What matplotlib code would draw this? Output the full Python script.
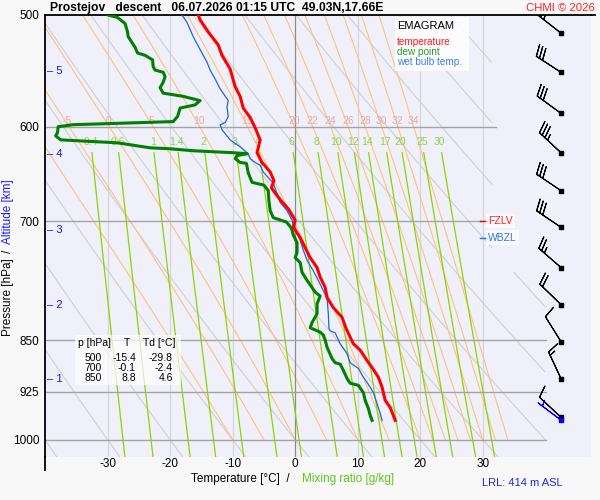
import numpy as np
import matplotlib.pyplot as plt
from matplotlib.lines import Line2D
from matplotlib.ticker import NullLocator

plt.rcParams['font.family'] = ['Liberation Sans', 'DejaVu Sans']

# ---- sounding (pressure hPa, temperature C) ----
temp_p = [500, 504, 514, 525, 534, 546, 562, 571, 582, 591, 601, 613, 626, 636,
          646, 655, 663, 676, 686, 699, 707, 719, 731, 743, 755, 767, 780, 793,
          806, 819, 833, 846, 855, 864, 879, 889, 903, 918, 938, 949, 969]
temp_c = [-15.5, -15.2, -13.9, -12.3, -11.7, -10.4, -9.6, -8.8, -8.3, -7.2, -6.4,
          -5.6, -6.1, -5.3, -4.0, -3.4, -3.8, -2.4, -1.1, 0.0, -0.3, 0.8, 1.6, 2.4,
          3.5, 4.0, 4.8, 5.1, 6.1, 7.5, 8.1, 8.8, 9.3, 10.4, 11.5, 12.3, 13.3, 13.9,
          14.4, 15.2, 16.0]

dew_p = [500, 502, 507, 514, 518, 527, 532, 534, 538, 544, 547, 549, 553, 558,
         563, 568, 571, 575, 579, 582, 590, 595, 596, 597, 598, 600, 606, 609,
         613, 616, 621, 622, 624, 626, 627, 629, 632, 636, 637, 647, 657, 660,
         666, 677, 688, 696, 701, 708, 716, 725, 737, 743, 749, 761, 771, 780,
         786, 791, 801, 814, 826, 833, 839, 843, 850, 860, 876, 882, 884, 893,
         905, 912, 915, 926, 938, 950, 961, 969]
dew_c = [-29.9, -28.4, -27.2, -26.8, -26.7, -25.6, -25.2, -24.0, -22.8, -22.7,
         -22.4, -21.1, -20.8, -21.1, -21.6, -21.1, -17.9, -15.2, -16.0, -18.4,
         -18.8, -19.5, -24.8, -30.0, -35.5, -37.9, -38.0, -38.3, -37.5, -28.4,
         -23.2, -20.0, -16.3, -9.9, -7.7, -9.3, -9.6, -8.8, -7.8, -7.5, -6.9,
         -5.0, -4.3, -4.2, -4.0, -3.5, -1.4, -0.6, -0.3, 0.3, 0.3, 0.0, 0.8, 1.1,
         1.9, 2.7, 3.2, 4.0, 3.5, 3.5, 2.7, 2.4, 4.0, 4.5, 4.8, 5.1, 5.9, 6.4, 7.2,
         7.7, 8.3, 8.8, 10.1, 10.9, 11.2, 11.7, 12.0, 12.3]

wet_p = [500, 506, 518, 529, 540, 547, 555, 564, 575, 581, 590, 596, 598, 603,
         613, 620, 627, 632, 636, 639, 646, 652, 658, 669, 679, 688, 699, 705,
         713, 722, 734, 746, 759, 771, 784, 794, 814, 834, 837, 840, 855, 869,
         882, 890, 900, 911, 918, 926, 943, 958, 969]
wet_c = [-18.1, -17.3, -16.3, -15.2, -14.1, -13.6, -12.8, -12.0, -10.7, -10.9,
         -10.7, -11.2, -12.0, -11.7, -10.4, -8.8, -7.5, -7.2, -6.4, -5.6, -5.1,
         -4.3, -3.5, -2.9, -2.4, -1.3, -0.5, -0.3, 0.3, 0.8, 1.3, 1.9, 2.9, 3.7,
         4.5, 5.1, 5.3, 5.4, 5.6, 6.4, 7.2, 8.3, 8.8, 10.1, 10.7, 11.5, 12.0, 12.5,
         13.1, 13.6, 13.9]

table_p = [500, 700, 850]
table_t = [-15.4, -0.1, 8.8]
table_td = [-29.8, -2.4, 4.6]

# winds (direction deg, speed kt)
wind_p = [515, 549, 587, 626, 666, 707, 755, 802, 852, 905, 964]
wind_dir = [308, 303, 306, 313, 304, 304, 311, 314, 328, 335, 313]
wind_kt = [30, 30, 30, 35, 30, 30, 25, 20, 10, 15, 10]
sfc_p = [969]
sfc_dir = [307]
sfc_kt = [5]

alt_km = [1, 2, 3, 4, 5]
alt_p = [906, 802, 710, 627, 548]

fzlv_p = 700
wbzl_p = 719

# ---- diagram background ----
p_levels = [600, 700, 850, 925, 1000]
p_line_end = {600: 32.1, 700: 30.0, 850: 40.1, 925: 40.1, 1000: 40.1}
isotherms = [-30, -20, -10, 10, 20, 30]
theta_c = np.arange(-40, 100, 10)
thetaw_c = [-10, -5, 0, 5, 10, 15, 20, 22, 24, 26, 28, 30, 32, 34]
mix_ratio = [0.4, 0.6, 1, 1.4, 2, 3, 4, 6, 8, 10, 12, 14, 17, 20, 25, 30]

P_TOP, P_BOT = 500, 1028.6
T_LEFT, T_RIGHT = -40, 47.3


def sat_vp(tc):
    return 6.112 * np.exp(17.67 * tc / (tc + 243.5))


def moist_adiabat(tw, p):
    # pseudo-adiabat integrated from 1000 hPa upwards
    Rd, cp, Lv, eps = 287.04, 1005.7, 2.501e6, 0.622

    def dtdp(T, pp):
        es = sat_vp(T - 273.15)
        rs = eps * es / (pp - es)
        return (Rd * T + Lv * rs) / pp / (cp + Lv * Lv * rs * eps / (Rd * T * T))

    T = tw + 273.15
    out = [T]
    for i in range(1, len(p)):
        dp = p[i] - p[i - 1]
        k1 = dtdp(T, p[i - 1])
        k2 = dtdp(T + k1 * dp, p[i])
        T = T + 0.5 * (k1 + k2) * dp
        out.append(T)
    return np.array(out) - 273.15


def mix_line(w, p):
    e = w * p / (622.0 + w)
    ln = np.log(e / 6.112)
    return 243.5 * ln / (17.67 - ln)


fig = plt.figure(figsize=(6, 5), dpi=100, facecolor='#f8f8f8')
ax = fig.add_axes([45 / 600, 1 - 457 / 500, 546 / 600, 442 / 500])
ax.set_facecolor('#f0f0fb')
ax.set_yscale('log')
ax.set_ylim(P_BOT, P_TOP)
ax.set_xlim(T_LEFT, T_RIGHT)

# isotherms
for t in isotherms:
    ax.axvline(t, color='#d6d6d6', lw=0.9, zorder=1)
ax.axvline(0, color='#8c8c8c', lw=0.9, zorder=1.2)

# dry adiabats
pp = np.linspace(P_TOP, P_BOT, 400)
for th in theta_c:
    t = (th + 273.15) * (pp / 1000.0) ** 0.2857 - 273.15
    t = np.where((pp < 760) & (t > 31.5), np.nan, t)
    t = np.where(t > 40, np.nan, t)
    ax.plot(t, pp, color='#cfcfcf', lw=0.8, zorder=1)

# moist adiabats
pm = np.linspace(1000, 500, 501)
for tw in thetaw_c:
    t = moist_adiabat(tw, pm)
    ax.plot(t, pm, color='#ffc27a', lw=0.8, zorder=1.1)
    if tw > -10:
        tl = np.interp(596, pm[::-1], t[::-1])
        ax.text(tl + 0.2, 594, str(tw), color='#f5a79c', fontsize=7.5,
                ha='center', va='center', zorder=2)

# mixing ratio lines
pw = np.linspace(626, P_BOT, 200)
for w in mix_ratio:
    ax.plot(mix_line(w, pw), pw, color='#8cd400', lw=0.9, zorder=1.3)
    ax.text(mix_line(w, 615.0), 615, '%g' % w, color='#8fd34a', fontsize=7.5,
            ha='center', va='center', zorder=2)

# pressure levels
for p in p_levels:
    ax.plot([T_LEFT, p_line_end[p]], [p, p], color='#a4a4a4', lw=1.0, zorder=1.5)

# profiles
ax.plot(wet_c, wet_p, color='#1a66e6', lw=0.9, zorder=4)
ax.plot(dew_c, dew_p, color='#008000', lw=2.2, zorder=4.5)
ax.plot(temp_c, temp_p, color='#ff0000', lw=2.2, zorder=5)

# winds
rad = np.deg2rad(wind_dir)
u = -np.array(wind_kt) * np.sin(rad)
v = -np.array(wind_kt) * np.cos(rad)
bx = 42.5
ax.barbs([bx] * len(wind_p), wind_p, u, v, length=6.5, linewidth=0.8,
         color='black', zorder=6)
ax.scatter([bx] * len(wind_p), wind_p, marker='s', s=8, color='black', zorder=6)
rs = np.deg2rad(sfc_dir)
ax.barbs([bx], sfc_p, -np.array(sfc_kt) * np.sin(rs), -np.array(sfc_kt) * np.cos(rs),
         length=6.5, linewidth=0.8, color='#0000ff', zorder=6)
ax.scatter([bx], sfc_p, marker='s', s=8, color='#0000ff', zorder=6)

# freezing / wet bulb zero level
ax.plot([29.6, 30.6], [fzlv_p, fzlv_p], color='#ff0000', lw=1, zorder=6)
ax.text(30.8, fzlv_p, 'FZLV', color='#ff2020', fontsize=7.5, va='center', ha='left',
        bbox=dict(facecolor='white', edgecolor='none', alpha=0.7, pad=1.5), zorder=6)
ax.plot([29.6, 30.6], [wbzl_p, wbzl_p], color='#2070e0', lw=1, zorder=6)
ax.text(30.8, wbzl_p, 'WBZL', color='#3078e8', fontsize=7.5, va='center', ha='left',
        bbox=dict(facecolor='white', edgecolor='none', alpha=0.7, pad=1.5), zorder=6)

# altitude marks
for km, p in zip(alt_km, alt_p):
    ax.text(0.004, p, '\u2013 %d' % km, color='#1414e0', fontsize=8, va='center',
            ha='left', transform=ax.get_yaxis_transform(), zorder=6)

# axes, ticks
ax.set_yticks([500] + p_levels)
ax.set_yticklabels(['500', '600', '700', '850', '925', '1000'])
ax.yaxis.set_minor_locator(NullLocator())
ax.set_xticks([-30, -20, -10, 0, 10, 20, 30])
ax.set_xticklabels(['-30', '-20', '-10', '0', '10', '20', '30'])
ax.tick_params(length=0, labelsize=8.5)
ax.tick_params(axis='x', pad=1)
ax.tick_params(axis='y', pad=4)
for s in ['right', 'bottom']:
    ax.spines[s].set_visible(False)
ax.spines['left'].set_linewidth(1.3)
ax.spines['top'].set_linewidth(1.3)
fig.add_artist(Line2D([45 / 600, 45 / 600], [1 - 457 / 500, 1 - 470 / 500],
                      color='black', lw=1.3))
fig.add_artist(Line2D([591 / 600, 595 / 600], [1 - 15 / 500, 1 - 15 / 500],
                      color='black', lw=1.3))

# legend box
ax.add_patch(plt.Rectangle(((395 - 45) / 546, (457 - 71) / 442), 74 / 546, 54 / 442,
                           transform=ax.transAxes, facecolor='white', alpha=0.85,
                           edgecolor='none', zorder=7))
fig.text(397 / 600, 1 - 26 / 500, 'EMAGRAM', fontsize=8, va='center', color='black')
for txt, col, yy in [('temperature', '#ff1a1a', 42), ('dew point', '#2c9e2c', 52),
                     ('wet bulb temp.', '#3f7fef', 62)]:
    fig.text(397 / 600, 1 - yy / 500, txt, fontsize=7.2, va='center', color=col)

# data table
ax.add_patch(plt.Rectangle(((75 - 45) / 546, (457 - 385) / 442), 106 / 546, 50 / 442,
                           transform=ax.transAxes, facecolor='white', alpha=0.7,
                           edgecolor='none', zorder=7))
fig.text(78 / 600, 1 - 343 / 500, 'p [hPa]', fontsize=7.5, va='center')
fig.text(127 / 600, 1 - 343 / 500, 'T', fontsize=7.5, va='center', ha='center')
fig.text(143 / 600, 1 - 343 / 500, 'Td [°C]', fontsize=7.5, va='center')
for i, (p, t, td) in enumerate(zip(table_p, table_t, table_td)):
    yy = 1 - (358 + 10 * i) / 500
    fig.text(102 / 600, yy, '%d' % p, fontsize=7.5, va='center', ha='right')
    fig.text(136 / 600, yy, '%.1f' % t, fontsize=7.5, va='center', ha='right')
    fig.text(173 / 600, yy, '%.1f' % td, fontsize=7.5, va='center', ha='right')

# titles and labels
fig.text(50 / 600, 1 - 8 / 500,
         'Prostejov   descent   06.07.2026 01:15 UTC  49.03N,17.66E',
         fontsize=8.7, fontweight='bold', va='center', ha='left')
fig.text(595 / 600, 1 - 8 / 500, 'CHMI © 2026', fontsize=8.2, color='#ff2020',
         va='center', ha='right')
fig.text(8 / 600, 1 - 297 / 500, 'Pressure [hPa]', rotation=90, fontsize=8.5,
         va='center', ha='center')
fig.text(8 / 600, 1 - 251 / 500, '/', rotation=90, fontsize=8.5,
         va='center', ha='center')
fig.text(8 / 600, 1 - 212 / 500, 'Altitude [km]', rotation=90, fontsize=8.5,
         va='center', ha='center', color='#1a1aff')
fig.text(290 / 600, 1 - 479 / 500, 'Temperature [°C]  /', fontsize=8.5,
         va='center', ha='right')
fig.text(302 / 600, 1 - 479 / 500, 'Mixing ratio [g/kg]', fontsize=8.5,
         va='center', ha='left', color='#5cc81e')
fig.text(482 / 600, 1 - 483 / 500, 'LRL: 414 m ASL', fontsize=8, va='center',
         ha='left', color='#2424e0')

fig.savefig('out.png', dpi=100, facecolor=fig.get_facecolor())
